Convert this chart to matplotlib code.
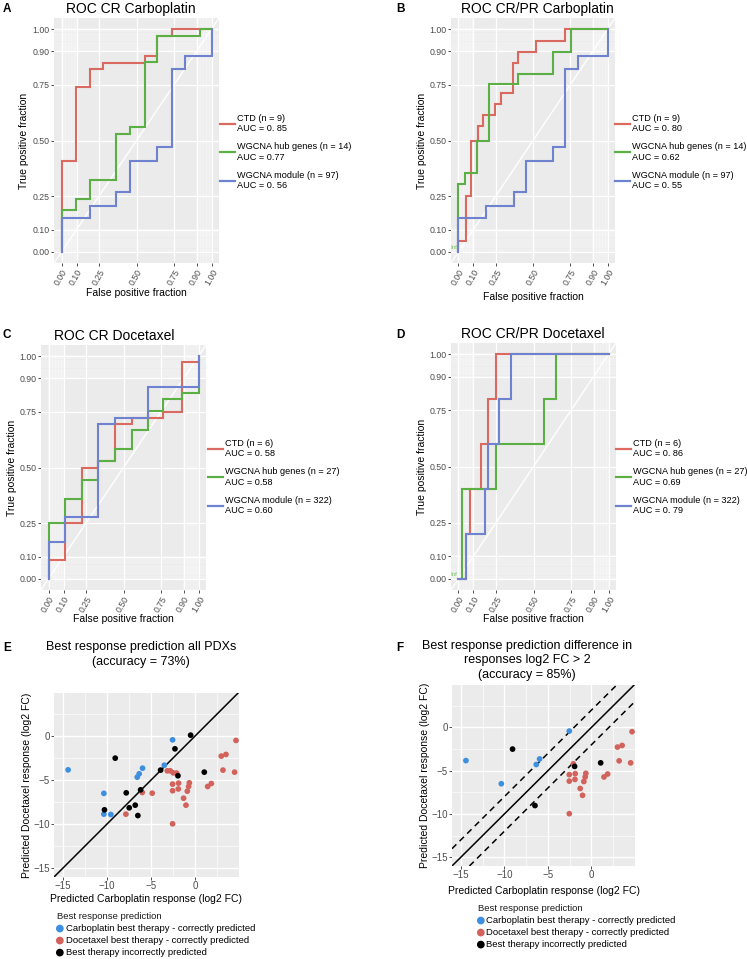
import matplotlib
matplotlib.use("Agg")
import matplotlib.pyplot as plt
import numpy as np

plt.rcParams['font.family'] = ['Liberation Sans', 'DejaVu Sans']

W, H = 747, 959
fig = plt.figure(figsize=(W / 100, H / 100), dpi=100)

def ax_at(l, t, r, b):
    return fig.add_axes([l / W, 1 - b / H, (r - l) / W, (b - t) / H])

# ---------------- ROC data (cutoff corner points) ----------------
roc_labels = ["CTD", "WGCNA hub genes", "WGCNA module"]
roc_colors = ['#DA6A5F', '#5BAF45', '#6E82D0']

# Panel A: ROC CR Carboplatin
a_ctd_fpr = [0, 0, 0.097, 0.187, 0.276, 0.555, 0.636, 0.735, 1.0]
a_ctd_tpr = [0, 0.41, 0.74, 0.82, 0.85, 0.88, 0.97, 1.0, 1.0]
a_hub_fpr = [0, 0, 0.097, 0.187, 0.366, 0.456, 0.555, 0.636, 0.92, 1.0]
a_hub_tpr = [0, 0.19, 0.237, 0.323, 0.529, 0.56, 0.852, 0.97, 1.0, 1.0]
a_mod_fpr = [0, 0, 0.187, 0.366, 0.456, 0.636, 0.735, 0.825, 1.0, 1.0]
a_mod_tpr = [0, 0.15, 0.207, 0.267, 0.41, 0.47, 0.82, 0.88, 1.0, 1.0]
a_n = [9, 14, 97]
a_auc = ["0. 85", "0.77", "0. 56"]

# Panel B: ROC CR/PR Carboplatin
b_ctd_fpr = [0, 0, 0.05, 0.085, 0.129, 0.162, 0.243, 0.283, 0.365, 0.398, 0.519, 0.713, 1.0]
b_ctd_tpr = [0, 0.05, 0.25, 0.5, 0.566, 0.615, 0.664, 0.714, 0.849, 0.896, 0.945, 1.0, 1.0]
b_hub_fpr = [0, 0, 0.045, 0.122, 0.204, 0.398, 0.635, 0.757, 1.0]
b_hub_tpr = [0, 0.304, 0.353, 0.5, 0.753, 0.8, 0.896, 1.0, 1.0]
b_mod_fpr = [0, 0, 0.188, 0.371, 0.452, 0.635, 0.717, 0.805, 1.0, 1.0]
b_mod_tpr = [0, 0.151, 0.207, 0.267, 0.41, 0.47, 0.82, 0.88, 1.0, 1.0]
b_n = [9, 14, 97]
b_auc = ["0. 80", "0.62", "0. 55"]

# Panel C: ROC CR Docetaxel
c_ctd_fpr = [0, 0, 0.11, 0.221, 0.332, 0.443, 0.559, 0.766, 0.888, 1.0]
c_ctd_tpr = [0, 0.083, 0.25, 0.5, 0.527, 0.696, 0.723, 0.748, 0.973, 1.0]
c_hub_fpr = [0, 0, 0.11, 0.221, 0.332, 0.443, 0.559, 0.661, 0.766, 0.888, 1.0]
c_hub_tpr = [0, 0.25, 0.357, 0.444, 0.527, 0.583, 0.667, 0.753, 0.808, 0.835, 1.0]
c_mod_fpr = [0, 0, 0.11, 0.332, 0.443, 0.661, 1.0]
c_mod_tpr = [0, 0.167, 0.277, 0.696, 0.723, 0.86, 1.0]
c_n = [6, 27, 322]
c_auc = ["0. 58", "0.58", "0.60"]

# Panel D: ROC CR/PR Docetaxel
d_ctd_fpr = [0, 0.05, 0.077, 0.15, 0.199, 0.25, 1.0]
d_ctd_tpr = [0, 0.2, 0.4, 0.6, 0.8, 1.0, 1.0]
d_hub_fpr = [0, 0.021, 0.25, 0.572, 0.648, 1.0]
d_hub_tpr = [0, 0.4, 0.6, 0.8, 1.0, 1.0]
d_mod_fpr = [0, 0.05, 0.177, 0.199, 0.272, 0.35, 1.0]
d_mod_tpr = [0, 0.2, 0.4, 0.6, 0.8, 1.0, 1.0]
d_n = [6, 27, 322]
d_auc = ["0. 86", "0.69", "0. 79"]

roc_breaks = [0, 0.1, 0.25, 0.5, 0.75, 0.9, 1.0]
roc_minor = list(np.arange(0, 0.101, 0.01)) + list(np.arange(0.9, 1.001, 0.01))

# ---------------- Scatter data (panel E; F is the subset with |diff| > 2) --------
carbo_blue = [-14.4, -10.34, -10.34, -9.55, -6.55, -6.33, -5.95, -3.48, -2.54]
doce_blue = [-3.83, -6.5, -8.86, -8.9, -4.66, -4.28, -3.64, -3.3, -0.42]
carbo_red = [4.66, 3.52, 2.99, 3.18, 4.5, -3.14, -2.8, -2.46, -2.08, -2.54, -1.86,
             -2.54, -1.89, -0.64, -0.72, -0.87, -1.29, -1.02, 1.86, 1.44, -4.85,
             -5.98, -7.84, -2.54]
doce_red = [-0.49, -2.08, -2.27, -3.86, -4.09, -3.94, -3.94, -4.17, -4.2, -5.45, -5.34,
            -6.2, -6.0, -5.3, -5.72, -6.25, -7.05, -7.84, -5.38, -5.72, -6.48,
            -6.4, -8.86, -9.96]
carbo_black = [-0.49, -2.27, -9.05, -3.9, -1.93, 1.06, -6.17, -7.8, -10.27, -7.46, -6.78, -6.48]
doce_black = [0.11, -1.44, -2.5, -3.86, -4.5, -4.09, -6.1, -6.44, -8.37, -8.14, -7.84, -9.02]

group_names = ["Carboplatin best therapy - correctly predicted",
               "Docetaxel best therapy - correctly predicted",
               "Best therapy incorrectly predicted"]
group_colors = ['#3D8FE0', '#D2625B', '#000000']
diff_threshold = 2

BG = '#EBEBEB'
TICKC = '#4D4D4D'


def style_axes(ax):
    ax.set_facecolor(BG)
    for s in ax.spines.values():
        s.set_visible(False)
    ax.tick_params(length=2, width=0.6, color='#333333', labelcolor=TICKC, pad=1.2)
    ax.set_axisbelow(True)


def roc_panel(box, title, title_cx, letter, letter_xy, curves, ns, aucs, xlabel_y,
              ylabel_x, leg_xy, inf_label=False):
    ax = ax_at(*box)
    style_axes(ax)
    ax.set_xlim(-0.05, 1.05)
    ax.set_ylim(-0.05, 1.05)
    for v in roc_minor:
        ax.axvline(v, color='white', lw=0.35, zorder=0.5)
        ax.axhline(v, color='white', lw=0.35, zorder=0.5)
    for v in roc_breaks:
        ax.axvline(v, color='white', lw=0.9, zorder=0.6)
        ax.axhline(v, color='white', lw=0.9, zorder=0.6)
    ax.axline((0, 0), (1, 1), color='white', lw=1.0, zorder=1)
    handles = []
    for (fpr, tpr), col, lab, n, auc in zip(curves, roc_colors, roc_labels, ns, aucs):
        h, = ax.plot(fpr, tpr, drawstyle='steps-post', color=col, lw=1.5,
                     solid_joinstyle='miter', zorder=2,
                     label=f"{lab} (n = {n})\nAUC = {auc}")
        handles.append(h)
    if inf_label:
        ax.text(-0.005, 0.008, "Inf", color='#7CC46A', fontsize=4.5, ha='right',
                va='bottom', clip_on=True, zorder=3)
    ax.set_xticks(roc_breaks)
    ax.set_yticks(roc_breaks)
    ax.set_xticklabels([f"{v:.2f}" for v in roc_breaks], rotation=60, ha='right',
                       va='top', rotation_mode='anchor', fontsize=6.3)
    ax.set_yticklabels([f"{v:.2f}" for v in roc_breaks], fontsize=6.3)
    l, t, r, b = box
    fig.text(title_cx / W, 1 - (t - 9) / H, title, ha='center', va='center', fontsize=10)
    fig.text(letter_xy[0] / W, 1 - letter_xy[1] / H, letter, ha='left', va='center',
             fontsize=8.5, fontweight='bold')
    fig.text((l + r) / 2 / W, 1 - xlabel_y / H, "False positive fraction", ha='center',
             va='center', fontsize=7.5)
    fig.text(ylabel_x / W, 1 - (t + b) / 2 / H, "True positive fraction", ha='center',
             va='center', rotation=90, fontsize=7.5)
    leg = ax.legend(handles=handles, loc='center left',
                    bbox_to_anchor=(leg_xy[0] / W, 1 - leg_xy[1] / H),
                    bbox_transform=fig.transFigure, frameon=False, fontsize=6.6,
                    handlelength=1.6, handletextpad=0.25, labelspacing=1.0,
                    borderpad=0, borderaxespad=0)
    for line in leg.get_lines():
        line.set_linewidth(1.6)
    return ax


roc_panel((54, 18, 219, 263), "ROC CR Carboplatin", 131, "A", (3, 9),
          [(a_ctd_fpr, a_ctd_tpr), (a_hub_fpr, a_hub_tpr), (a_mod_fpr, a_mod_tpr)],
          a_n, a_auc, 293, 24, (220, 152))
roc_panel((451, 18, 615, 263), "ROC CR/PR Carboplatin", 537, "B", (396, 9),
          [(b_ctd_fpr, b_ctd_tpr), (b_hub_fpr, b_hub_tpr), (b_mod_fpr, b_mod_tpr)],
          b_n, b_auc, 297, 422, (615, 152), inf_label=True)
roc_panel((41, 345, 206, 590), "ROC CR Docetaxel", 114, "C", (3, 335),
          [(c_ctd_fpr, c_ctd_tpr), (c_hub_fpr, c_hub_tpr), (c_mod_fpr, c_mod_tpr)],
          c_n, c_auc, 619, 12, (208, 477))
roc_panel((451, 343, 616, 590), "ROC CR/PR Docetaxel", 533, "D", (396, 335),
          [(d_ctd_fpr, d_ctd_tpr), (d_hub_fpr, d_hub_tpr), (d_mod_fpr, d_mod_tpr)],
          d_n, d_auc, 619, 422, (616, 477), inf_label=True)


# ---------------- Scatter panels ----------------
def scatter_panel(box, subset, title_lines, title_cx, title_y0, letter, letter_xy,
                  xlabel_y, ylabel_x, leg_xy, dashed):
    ax = ax_at(*box)
    style_axes(ax)
    ax.set_xlim(-16.0, 5.0)
    ax.set_ylim(-16.0, 4.9)
    for v in [-12.5, -7.5, -2.5, 2.5]:
        ax.axvline(v, color='white', lw=0.45, zorder=0.5)
        ax.axhline(v, color='white', lw=0.45, zorder=0.5)
    for v in [-15, -10, -5, 0]:
        ax.axvline(v, color='white', lw=1.0, zorder=0.6)
        ax.axhline(v, color='white', lw=1.0, zorder=0.6)
    ax.axline((0, 0), (1, 1), color='black', lw=1.1, zorder=1)
    if dashed:
        ax.axline((0, diff_threshold), (1, 1 + diff_threshold), color='black', lw=1.1,
                  ls=(0, (4, 3)), zorder=1)
        ax.axline((0, -diff_threshold), (1, 1 - diff_threshold), color='black', lw=1.1,
                  ls=(0, (4, 3)), zorder=1)
    groups = [(carbo_blue, doce_blue), (carbo_red, doce_red), (carbo_black, doce_black)]
    handles = []
    for (xs, ys), col, name in zip(groups, group_colors, group_names):
        xs = np.array(xs)
        ys = np.array(ys)
        if subset:
            m = np.abs(ys - xs) > diff_threshold
            xs, ys = xs[m], ys[m]
        h = ax.scatter(xs, ys, s=17, color=col, edgecolors='none', zorder=3, label=name)
        handles.append(h)
    ax.set_xticks([-15, -10, -5, 0])
    ax.set_yticks([-15, -10, -5, 0])
    ax.set_xticklabels(["\u221215", "\u221210", "\u22125", "0"], fontsize=7)
    ax.set_yticklabels(["\u221215", "\u221210", "\u22125", "0"], fontsize=7)
    l, t, r, b = box
    for i, line in enumerate(title_lines):
        fig.text(title_cx / W, 1 - (title_y0 + i * 14.5) / H, line, ha='center',
                 va='center', fontsize=9)
    fig.text(letter_xy[0] / W, 1 - letter_xy[1] / H, letter, ha='left', va='center',
             fontsize=8.5, fontweight='bold')
    fig.text((l + r) / 2 / W, 1 - xlabel_y / H, "Predicted Carboplatin response (log2 FC)",
             ha='center', va='center', fontsize=7.5)
    fig.text(ylabel_x / W, 1 - (t + b) / 2 / H, "Predicted Docetaxel response (log2 FC)",
             ha='center', va='center', rotation=90, fontsize=7.5)
    leg = ax.legend(handles=handles, loc='upper left',
                    bbox_to_anchor=(leg_xy[0] / W, 1 - leg_xy[1] / H),
                    bbox_transform=fig.transFigure, frameon=False, fontsize=6.8,
                    title="Best response prediction", title_fontsize=6.8,
                    alignment='left', handlelength=0.6, handletextpad=0.3,
                    labelspacing=0.32, borderpad=0, borderaxespad=0, markerscale=1.35)
    leg.get_title().set_color('#1A1A1A')
    return ax


scatter_panel((54, 693, 239, 877), False,
              ["Best response prediction all PDXs", "(accuracy = 73%)"], 141, 647,
              "E", (3, 648), 899, 27, (57, 912), dashed=False)
scatter_panel((452, 685, 635, 866), True,
              ["Best response prediction difference in", "responses log2 FC > 2",
               "(accuracy = 85%)"], 527, 646, "F", (396, 648), 891, 425, (478, 904),
              dashed=True)

fig.savefig("out.png", dpi=100, facecolor='white')
